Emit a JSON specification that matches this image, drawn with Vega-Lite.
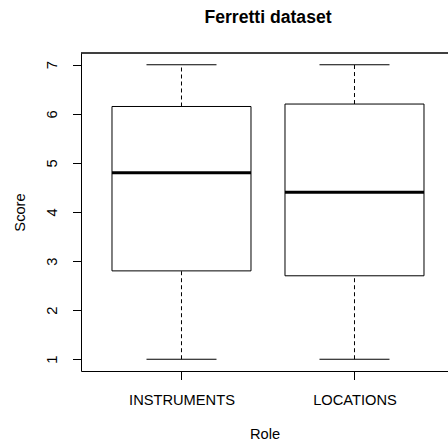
{
  "$schema": "https://vega.github.io/schema/vega-lite/v6.json",
  "autosize": {"type": "none"},
  "padding": {"left": 81, "top": 53, "right": 0, "bottom": 70},
  "width": 367,
  "height": 318,
  "background": "white",
  "title": {"text": "Ferretti dataset", "fontSize": 17.6, "fontWeight": "bold", "font": "Liberation Sans", "anchor": "middle", "frame": "group", "baseline": "alphabetic", "offset": 12, "dx": 3.5, "color": "black"},
  "data": {"values": [
    {"role": "INSTRUMENTS", "min": 1, "q1": 2.8, "median": 4.8, "q3": 6.15, "max": 7},
    {"role": "LOCATIONS", "min": 1, "q1": 2.7, "median": 4.4, "q3": 6.2, "max": 7}
  ]},
  "layer": [
    {
      "mark": {"type": "rule", "color": "black", "strokeWidth": 1, "strokeDash": [4, 3]},
      "encoding": {
        "x": {"field": "role", "type": "nominal", "scale": {"type": "point", "padding": 0.5607, "align": 0.518}, "axis": {"title": "Role"}},
        "y": {"field": "min", "type": "quantitative", "scale": {"domain": [0.76, 7.24], "nice": false, "zero": false}, "axis": {"title": "Score"}},
        "y2": {"field": "q1"}
      }
    },
    {
      "mark": {"type": "rule", "color": "black", "strokeWidth": 1, "strokeDash": [4, 3]},
      "encoding": {
        "x": {"field": "role", "type": "nominal", "axis": {"title": "Role"}},
        "y": {"field": "q3", "type": "quantitative", "axis": {"title": "Score"}},
        "y2": {"field": "max"}
      }
    },
    {
      "mark": {"type": "tick", "color": "black", "size": 70, "thickness": 1, "opacity": 1},
      "encoding": {
        "x": {"field": "role", "type": "nominal", "axis": {"title": "Role"}},
        "y": {"field": "min", "type": "quantitative", "axis": {"title": "Score"}}
      }
    },
    {
      "mark": {"type": "tick", "color": "black", "size": 70, "thickness": 1, "opacity": 1},
      "encoding": {
        "x": {"field": "role", "type": "nominal", "axis": {"title": "Role"}},
        "y": {"field": "max", "type": "quantitative", "axis": {"title": "Score"}}
      }
    },
    {
      "mark": {"type": "bar", "size": 139, "fill": "white", "stroke": "black", "strokeWidth": 1},
      "encoding": {
        "x": {"field": "role", "type": "nominal", "axis": {"title": "Role"}},
        "y": {"field": "q1", "type": "quantitative", "axis": {"title": "Score"}},
        "y2": {"field": "q3"}
      }
    },
    {
      "mark": {"type": "tick", "color": "black", "size": 139, "thickness": 3, "opacity": 1},
      "encoding": {
        "x": {"field": "role", "type": "nominal", "axis": {"title": "Role"}},
        "y": {"field": "median", "type": "quantitative", "axis": {"title": "Score"}}
      }
    },
    {
      "mark": {"type": "rule", "color": "black", "strokeWidth": 1},
      "encoding": {
        "y": {"datum": 7.24, "type": "quantitative", "axis": {"title": "Score"}}
      }
    }
  ],
  "config": {
    "view": {"stroke": null},
    "font": "Liberation Sans",
    "axis": {"grid": false, "domainColor": "black", "domainWidth": 1, "tickColor": "black", "tickWidth": 1, "labelColor": "black", "titleColor": "black", "labelFont": "Liberation Sans", "titleFont": "Liberation Sans", "labelFontSize": 14.67, "titleFontSize": 14.67, "titleFontWeight": "normal"},
    "axisLeft": {"values": [1, 2, 3, 4, 5, 6, 7], "tickSize": 8.5, "labelAngle": 270, "labelAlign": "center", "labelBaseline": "alphabetic", "labelPadding": 16.5, "titleAngle": 270, "titleBaseline": "alphabetic", "titleX": -57, "labelFlush": false, "labelOverlap": false},
    "axisBottom": {"tickSize": 8.5, "labelAngle": 0, "labelAlign": "center", "labelBaseline": "alphabetic", "labelPadding": 24.7, "titleBaseline": "alphabetic", "titleY": 67.7}
  }
}
